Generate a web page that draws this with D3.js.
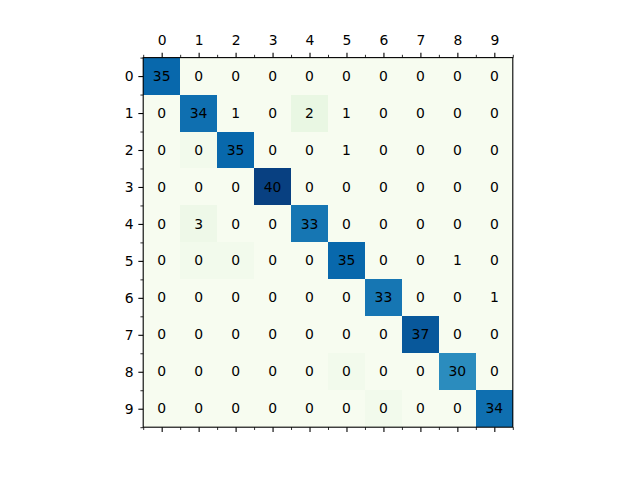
<!DOCTYPE html>
<html>
<head>
<meta charset="utf-8">
<script src="https://cdn.jsdelivr.net/npm/d3@7"></script>
<style>
  html, body { margin: 0; padding: 0; background: #fff; }
  svg { display: block; }
  text { font-family: "DejaVu Sans", sans-serif; }
</style>
</head>
<body>
<svg id="chart" width="640" height="480"></svg>
<script>
// Class labels (x on top, y on left)
const classes = ["0","1","2","3","4","5","6","7","8","9"];
// Printed counts, rows = true class, cols = predicted class
const row0 = [35,0,0,0,0,0,0,0,0,0];
const row1 = [0,34,1,0,2,1,0,0,0,0];
const row2 = [0,0,35,0,0,1,0,0,0,0];
const row3 = [0,0,0,40,0,0,0,0,0,0];
const row4 = [0,3,0,0,33,0,0,0,0,0];
const row5 = [0,0,0,0,0,35,0,0,1,0];
const row6 = [0,0,0,0,0,0,33,0,0,1];
const row7 = [0,0,0,0,0,0,0,37,0,0];
const row8 = [0,0,0,0,0,0,0,0,30,0];
const row9 = [0,0,0,0,0,0,0,0,0,34];
const counts = [row0,row1,row2,row3,row4,row5,row6,row7,row8,row9];
// GnBu colour stops
const gnbu = ["#f7fcf0","#e0f3db","#ccebc5","#a8ddb5","#7bccc4","#4eb3d3","#2b8cbe","#0868ac","#084081"];

const svg = d3.select("#chart");
const axLeft = 143.2, axTop = 57.6, axSize = 369.6;

const x = d3.scaleBand().domain(classes).range([axLeft, axLeft + axSize]);
const y = d3.scaleBand().domain(classes).range([axTop, axTop + axSize]);

// image is drawn from the transposed matrix (as in the reference)
const cells = [];
classes.forEach((r, i) => classes.forEach((c, j) => {
  cells.push({r, c, text: counts[i][j], shade: counts[j][i]});
}));
const vmax = d3.max(cells, d => d.shade), vmin = d3.min(cells, d => d.shade);
const color = d3.scaleLinear()
  .domain(gnbu.map((_, k) => vmin + (vmax - vmin) * k / (gnbu.length - 1)))
  .range(gnbu)
  .interpolate(d3.interpolateRgb);

svg.append("g").selectAll("rect").data(cells).join("rect")
  .attr("x", d => x(d.c)).attr("y", d => y(d.r))
  .attr("width", x.bandwidth()).attr("height", y.bandwidth())
  .attr("fill", d => color(d.shade))
  .attr("shape-rendering", "crispEdges");

svg.append("g").selectAll("text").data(cells).join("text")
  .attr("x", d => x(d.c) + x.bandwidth() / 2)
  .attr("y", d => y(d.r) + y.bandwidth() / 2)
  .attr("dy", "0.33em")
  .attr("text-anchor", "middle")
  .attr("font-size", "13.9px")
  .attr("fill", "#000")
  .text(d => d.text);

// Axes
const fs = "13.9px";
const majLen = 4.86, minLen = 2.78, pad = 4.86;
const xc = d3.scaleLinear().domain([-0.5, classes.length - 0.5]).range([axLeft, axLeft + axSize]);
const yc = d3.scaleLinear().domain([-0.5, classes.length - 0.5]).range([axTop, axTop + axSize]);
const majorVals = classes.map((_, k) => k);
const minorVals = d3.range(-0.5, classes.length, 1);

const topAxis = d3.axisTop(xc).tickValues(majorVals).tickFormat(k => classes[k])
  .tickSize(majLen).tickPadding(pad + 3);
const topMinor = d3.axisTop(xc).tickValues(minorVals).tickFormat("").tickSize(minLen);
const botAxis = d3.axisBottom(xc).tickValues(majorVals).tickFormat("").tickSize(majLen);
const botMinor = d3.axisBottom(xc).tickValues(minorVals).tickFormat("").tickSize(minLen);
const leftAxis = d3.axisLeft(yc).tickValues(majorVals).tickFormat(k => classes[k])
  .tickSize(majLen).tickPadding(pad);
const leftMinor = d3.axisLeft(yc).tickValues(minorVals).tickFormat("").tickSize(minLen);

function style(g, w) {
  g.select(".domain").remove();
  g.selectAll("line").attr("stroke", "#000").attr("stroke-width", w);
  g.selectAll("text").attr("font-size", fs).attr("font-family", "DejaVu Sans, sans-serif").attr("fill", "#000");
}
svg.append("g").attr("transform", `translate(0,${axTop})`).call(topAxis).call(g => style(g, 1.1));
svg.append("g").attr("transform", `translate(0,${axTop})`).call(topMinor).call(g => style(g, 0.83));
svg.append("g").attr("transform", `translate(0,${axTop + axSize})`).call(botAxis).call(g => style(g, 1.1));
svg.append("g").attr("transform", `translate(0,${axTop + axSize})`).call(botMinor).call(g => style(g, 0.83));
svg.append("g").attr("transform", `translate(${axLeft},0)`).call(leftAxis).call(g => style(g, 1.1));
svg.append("g").attr("transform", `translate(${axLeft},0)`).call(leftMinor).call(g => style(g, 0.83));

// Spines
svg.append("rect")
  .attr("x", axLeft).attr("y", axTop).attr("width", axSize).attr("height", axSize)
  .attr("fill", "none").attr("stroke", "#000").attr("stroke-width", 1.1);
</script>
</body>
</html>
